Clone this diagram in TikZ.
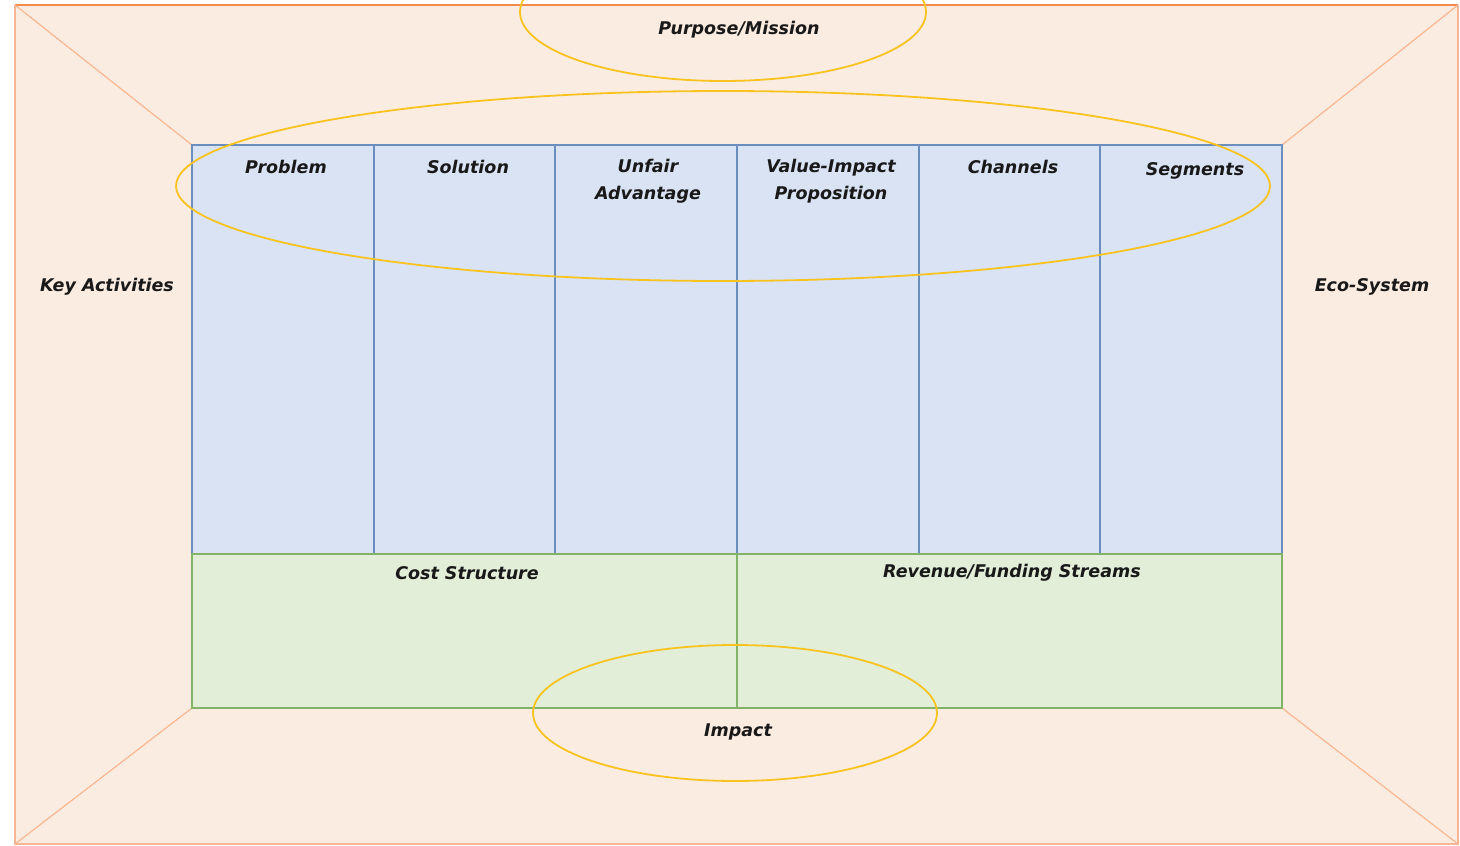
\documentclass[tikz,border=0pt]{standalone}
\usepackage{fontspec}
\setmainfont{DejaVu Sans}
\begin{document}
\definecolor{peach}{HTML}{FBECE1}
\definecolor{peachline}{HTML}{F7B690}
\definecolor{orangeline}{HTML}{F48A4C}
\definecolor{bluefill}{HTML}{DAE3F3}
\definecolor{blueline}{HTML}{6C8EBF}
\definecolor{greenfill}{HTML}{E2EED8}
\definecolor{greenline}{HTML}{82B366}
\definecolor{gold}{HTML}{F9C31F}
\tikzset{
  col/.style={fill=bluefill, minimum width=181.7pt, minimum height=409pt, inner sep=0pt, outer sep=0pt},
  half/.style={fill=greenfill, minimum width=545pt, minimum height=154pt, inner sep=0pt, outer sep=0pt},
  colframe/.style={draw=blueline, line width=2pt},
  halfframe/.style={draw=greenline, line width=2pt},
  ring/.style={draw=gold, line width=1.8pt},
  diag/.style={draw=peachline, line width=1.2pt},
  lbl/.style={font=\fontsize{17.5}{27}\selectfont\bfseries\itshape, text=black!90, align=center, inner sep=0pt}
}
\begin{tikzpicture}[x=1pt, y=-1pt]
\useasboundingbox (0,0) rectangle (1460,846);
% outer frame
\fill[peach] (15,5) rectangle (1458,844);
\draw[peachline, line width=1.6pt] (15,5) -- (15,844) -- (1458,844) -- (1458,5);
\draw[orangeline, line width=1.8pt] (15,5) -- (1458,5);
% corner diagonals
\coordinate (o1) at (15,5);
\coordinate (o2) at (1458,5);
\coordinate (o3) at (15,844);
\coordinate (o4) at (1458,844);
\coordinate (i1) at (192,145);
\coordinate (i2) at (1282,145);
\coordinate (i3) at (192,708);
\coordinate (i4) at (1282,708);
\draw[diag] (o1) -- (i1);
\draw[diag] (o2) -- (i2);
\draw[diag] (o3) -- (i3);
\draw[diag] (o4) -- (i4);
% six columns
\node[col] (c1) at (282.8,349.5) {};
\node[col] (c2) at (464.5,349.5) {};
\node[col] (c3) at (646.2,349.5) {};
\node[col] (c4) at (827.9,349.5) {};
\node[col] (c5) at (1009.6,349.5) {};
\node[col] (c6) at (1191.3,349.5) {};
\foreach \c in {c1,c2,c3,c4,c5,c6}
  \draw[colframe] (\c.north west) rectangle (\c.south east);
% bottom halves
\node[half] (cost) at (464.5,631) {};
\node[half] (rev) at (1009.5,631) {};
\foreach \c in {cost,rev}
  \draw[halfframe] (\c.north west) rectangle (\c.south east);
% ellipses
\draw[ring] (723,12) ellipse [x radius=203pt, y radius=69pt];
\draw[ring] (723,186) ellipse [x radius=547pt, y radius=95pt];
\draw[ring] (735,713) ellipse [x radius=202pt, y radius=68pt];
% labels
\node[lbl] (tpurpose) at (739,30) {Purpose/Mission};
\node[lbl] (tproblem) at (286,167) {Problem};
\node[lbl] (tsolution) at (468,167) {Solution};
\node[lbl] (tunfair) at (648,181) {Unfair\\Advantage};
\node[lbl] (tvalue) at (831,181) {Value-Impact\\Proposition};
\node[lbl] (tchannels) at (1013,167) {Channels};
\node[lbl] (tsegments) at (1195,171) {Segments};
\node[lbl] (tkey) at (107,287) {Key Activities};
\node[lbl] (teco) at (1372,287) {Eco-System};
\node[lbl] (tcost) at (467,573) {Cost Structure};
\node[lbl] (trev) at (1012,573) {Revenue/Funding Streams};
\node[lbl] (timpact) at (738,732) {Impact};
\end{tikzpicture}
\end{document}
